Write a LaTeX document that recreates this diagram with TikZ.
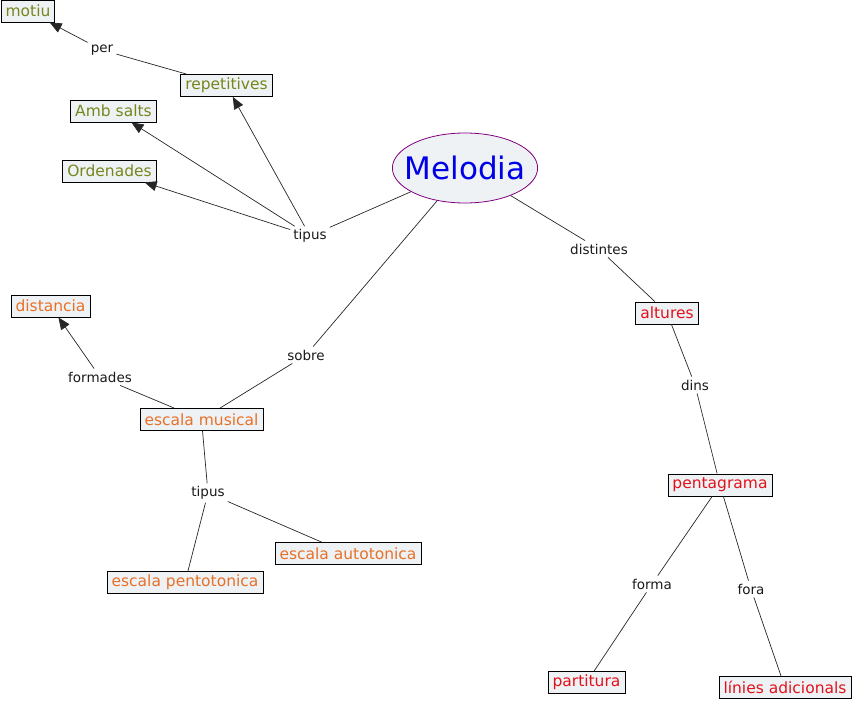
\documentclass[tikz,border=0pt]{standalone}
\usepackage{fontspec}
\setmainfont{DejaVu Sans}
\usetikzlibrary{arrows.meta,shapes.geometric}
\definecolor{boxfill}{RGB}{238,242,244}
\definecolor{olivet}{RGB}{118,134,30}
\definecolor{oranget}{RGB}{232,112,40}
\definecolor{redt}{RGB}{226,18,28}
\definecolor{bluet}{RGB}{0,0,230}
\definecolor{purpleb}{RGB}{128,0,128}
\tikzset{
  x=1pt,y=-1pt,
  concept/.style={draw=black,fill=boxfill,line width=0.8pt,inner xsep=4.5pt,inner ysep=2pt,minimum height=22pt,font=\fontsize{15.5}{17}\selectfont},
  cg/.style={concept,text=olivet},
  co/.style={concept,text=oranget},
  cr/.style={concept,text=redt},
  lbl/.style={inner sep=3pt,text=black!90,font=\fontsize{13.5}{15}\selectfont},
  link/.style={draw=black!85,line width=0.7pt},
  arr/.style={link,-{Triangle[length=12pt,width=10pt]}}
}
\begin{document}
\begin{tikzpicture}
\useasboundingbox (0,0) rectangle (855,701);
% concepts
\node[ellipse,draw=purpleb,fill=boxfill,line width=0.8pt,inner xsep=-9pt,inner ysep=0pt,minimum height=70pt,text=bluet,font=\fontsize{31}{34}\selectfont] (mel) at (465,168) {Melodia};
\node[cg] (motiu) at (28,11) {motiu};
\node[cg] (rep) at (226.5,85.5) {repetitives};
\node[cg] (amb) at (113.5,111) {Amb salts};
\node[cg] (ord) at (109.5,171) {Ordenades};
\node[cr] (alt) at (667,313) {altures};
\node[cr] (pent) at (720,485) {pentagrama};
\node[cr] (part) at (586.5,682.5) {partitura};
\node[cr] (lin) at (785,687.5) {línies adicionals};
\node[co] (esc) at (201.5,419.5) {escala musical};
\node[co] (dist) at (50.5,306) {distancia};
\node[co] (auto) at (348,553.5) {escala autotonica};
\node[co] (pento) at (185,582.5) {escala pentotonica};
% labels
\node[lbl] (tip1) at (310,236) {tipus};
\node[lbl] (per) at (102,50) {per};
\node[lbl] (dis) at (599,249) {distintes};
\node[lbl] (dins) at (695,385) {dins};
\node[lbl] (forma) at (652,584) {forma};
\node[lbl] (fora) at (751,589) {fora};
\node[lbl] (sobre) at (306,355) {sobre};
\node[lbl] (formd) at (100,377) {formades};
\node[lbl] (tip2) at (208,493) {tipus};
% connectors
\draw[link] (mel) -- (tip1);
\draw[arr] (tip1) -- (rep);
\draw[arr] (tip1) -- (amb);
\draw[arr] (tip1) -- (ord);
\draw[link] (rep) -- (per);
\draw[arr] (per) -- (motiu);
\draw[link] (mel) -- (dis);
\draw[link] (dis) -- (alt);
\draw[link] (alt) -- (dins);
\draw[link] (dins) -- (pent);
\draw[link] (pent) -- (forma);
\draw[link] (forma) -- (part);
\draw[link] (pent) -- (fora);
\draw[link] (fora) -- (lin);
\draw[link] (mel) -- (sobre);
\draw[link] (sobre) -- (esc);
\draw[link] (esc) -- (formd);
\draw[arr] (formd) -- (dist);
\draw[link] (esc) -- (tip2);
\draw[link] (tip2) -- (auto);
\draw[link] (tip2) -- (pento);
\end{tikzpicture}
\end{document}
